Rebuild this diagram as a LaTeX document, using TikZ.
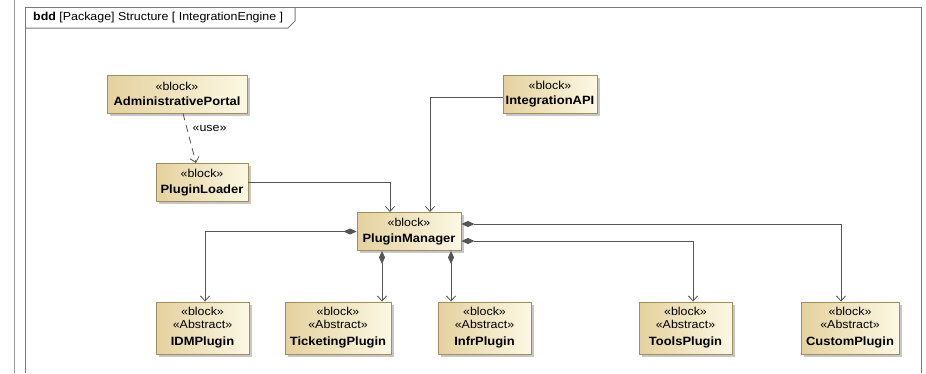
\documentclass[tikz,border=0pt]{standalone}
\usepackage{fontspec}
\setmainfont[FakeStretch=1.08]{Liberation Sans}
\usetikzlibrary{arrows.meta,shadows}

\definecolor{blockL}{HTML}{E4D19E}
\definecolor{blockR}{HTML}{FCF8E4}
\definecolor{blockEdge}{HTML}{A08E60}
\definecolor{wire}{HTML}{555555}
\definecolor{frameC}{HTML}{7A7A7A}

\newcommand{\blkname}[1]{{\bfseries\fontsize{12}{14}\selectfont #1}}

\tikzset{
  blockbox/.style={draw=blockEdge, line width=0.9pt,
    left color=blockL, right color=blockR,
    drop shadow={shadow xshift=2.5pt, shadow yshift=-2.5pt, fill=black, opacity=0.22},
    align=center, inner sep=0pt, font=\fontsize{11.5}{13}\selectfont},
  twoline/.style={blockbox, minimum height=38pt},
  threeline/.style={blockbox, minimum height=52pt},
  usedep/.style={draw=wire, line width=0.8pt, dash pattern=on 7pt off 5pt,
    -{Straight Barb[length=5pt,width=9pt]}},
  assoc/.style={draw=wire, line width=0.8pt, -{Straight Barb[length=5pt,width=9pt]}},
  comp/.style={draw=wire, line width=0.8pt,
    {Diamond[length=13pt,width=6pt,fill=wire]}-{Straight Barb[length=5pt,width=9pt]}},
  framepen/.style={draw=frameC, line width=1pt}
}

\begin{document}
\begin{tikzpicture}[x=1pt, y=-1pt]
  \useasboundingbox (0,0) rectangle (926,373);

  % diagram frame and its name tab
  \draw[framepen, draw=black!40] (14,0) -- (14,373);
  \draw[framepen] (25,373) -- (25,7) -- (921,7) -- (921,373);
  \draw[framepen] (25,28) -- (288,28) -- (295,21) -- (295,7);
  \node[anchor=west, inner sep=0pt, font=\fontsize{11.5}{13}\selectfont] (title) at (33,18)
    {\textbf{bdd} [Package] Structure [ IntegrationEngine ]};

  % blocks
  \node[twoline, minimum width=140pt] (portal) at (177,94)
    {«block»\\[2.5pt]\blkname{AdministrativePortal}};
  \node[twoline, minimum width=94pt] (api) at (550,94)
    {«block»\\[2.5pt]\blkname{IntegrationAPI}};
  \node[twoline, minimum width=92pt] (loader) at (202,182.5)
    {«block»\\[2.5pt]\blkname{PluginLoader}};
  \node[twoline, minimum width=104pt] (pm) at (409,231.5)
    {«block»\\[2.5pt]\blkname{PluginManager}};

  \node[threeline, minimum width=93pt] (idm) at (202.5,328)
    {«block»\\«Abstract»\\[4pt]\blkname{IDMPlugin}};
  \node[threeline, minimum width=106pt] (tick) at (338,328)
    {«block»\\«Abstract»\\[4pt]\blkname{TicketingPlugin}};
  \node[threeline, minimum width=93pt] (infr) at (484.5,328)
    {«block»\\«Abstract»\\[4pt]\blkname{InfrPlugin}};
  \node[threeline, minimum width=93pt] (tools) at (685.5,328)
    {«block»\\«Abstract»\\[4pt]\blkname{ToolsPlugin}};
  \node[threeline, minimum width=98pt] (custom) at (850,328)
    {«block»\\«Abstract»\\[4pt]\blkname{CustomPlugin}};

  % dependency
  \draw[usedep] ([xshift=6pt]portal.south) -- ([xshift=-6pt]loader.north)
    node[pos=0.3, anchor=west, xshift=2pt, font=\fontsize{11.5}{13}\selectfont] (uselbl) {«use»};

  % associations into the manager
  \draw[assoc] (loader.east) -| ([xshift=-19pt]pm.north);
  \draw[assoc] ([yshift=-3pt]api.west) -| ([xshift=21pt]pm.north);

  % compositions owned by the manager
  \draw[comp] (pm.west) -| ([xshift=2.5pt]idm.north);
  \draw[comp] ([xshift=-27pt]pm.south) -- ([xshift=-27pt]pm.south |- tick.north);
  \draw[comp] ([xshift=42pt]pm.south) -- ([xshift=42pt]pm.south |- infr.north);
  \draw[comp] ([yshift=7.5pt]pm.east) -| ([xshift=-9pt]custom.north);
  \draw[comp] ([yshift=-9.5pt]pm.east) -| ([xshift=7.5pt]tools.north);
\end{tikzpicture}
\end{document}
